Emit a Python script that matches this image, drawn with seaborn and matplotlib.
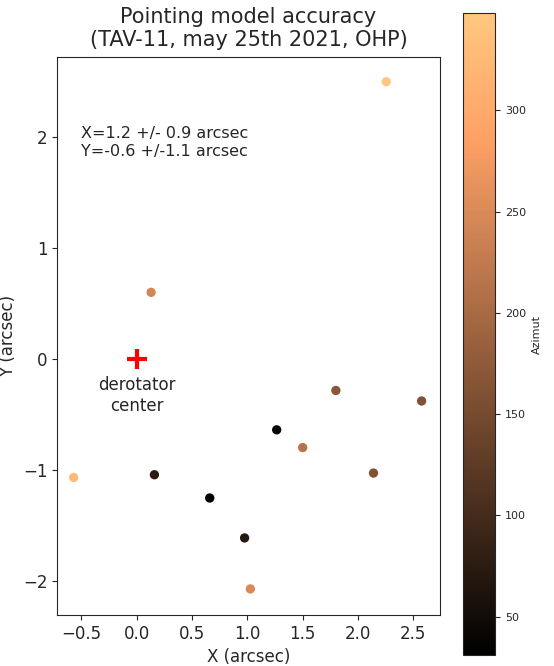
import numpy as np
import pandas as pd
import seaborn as sns
import matplotlib
matplotlib.use('Agg')
import matplotlib.pyplot as plt

# measured offsets (arcsec) and azimuth of each pointing
x_off = [0.13, 1.80, 2.575, 1.265, 1.50, -0.57, 0.16, 2.14, 0.66, 0.975, 1.027, 2.255]
y_off = [0.60, -0.285, -0.38, -0.64, -0.80, -1.07, -1.045, -1.03, -1.255, -1.615, -2.075, 2.50]
azimut = [245, 170, 160, 40, 215, 325, 75, 160, 31, 70, 250, 348]

df = pd.DataFrame({'x': x_off, 'y': y_off, 'Azimut': azimut})
vmin, vmax = min(azimut), max(azimut)

sns.set_style('ticks')
fig = plt.figure(figsize=(5.54, 6.66), dpi=100)
ax = fig.add_axes([0.103, 0.0766, 0.691, 0.8374])
cax = fig.add_axes([0.836, 0.0165, 0.058, 0.9635])

sns.scatterplot(data=df, x='x', y='y', hue='Azimut', palette='copper',
                hue_norm=(vmin, vmax), s=45, linewidth=0, legend=False, ax=ax)
ax.plot([0], [0], '+', color='red', markersize=15, mew=3)
ax.text(0, -0.33, 'derotator\ncenter', ha='center', va='center', fontsize=12)
ax.text(-0.5, 1.95, 'X=1.2 +/- 0.9 arcsec\nY=-0.6 +/-1.1 arcsec',
        ha='left', va='center', fontsize=11.5)

ax.set_xlim(-0.72, 2.74)
ax.set_ylim(-2.31, 2.72)
ax.set_xlabel('X (arcsec)', fontsize=12)
ax.set_ylabel('Y (arcsec)', fontsize=12)
ax.tick_params(labelsize=12)
ax.set_title('Pointing model accuracy\n(TAV-11, may 25th 2021, OHP)', fontsize=15, pad=8)

sm = plt.cm.ScalarMappable(cmap='copper', norm=plt.Normalize(vmin, vmax))
cb = fig.colorbar(sm, cax=cax)
cb.set_label('Azimut', fontsize=8)
cb.ax.tick_params(labelsize=8)

plt.savefig('out.png', dpi=100)
